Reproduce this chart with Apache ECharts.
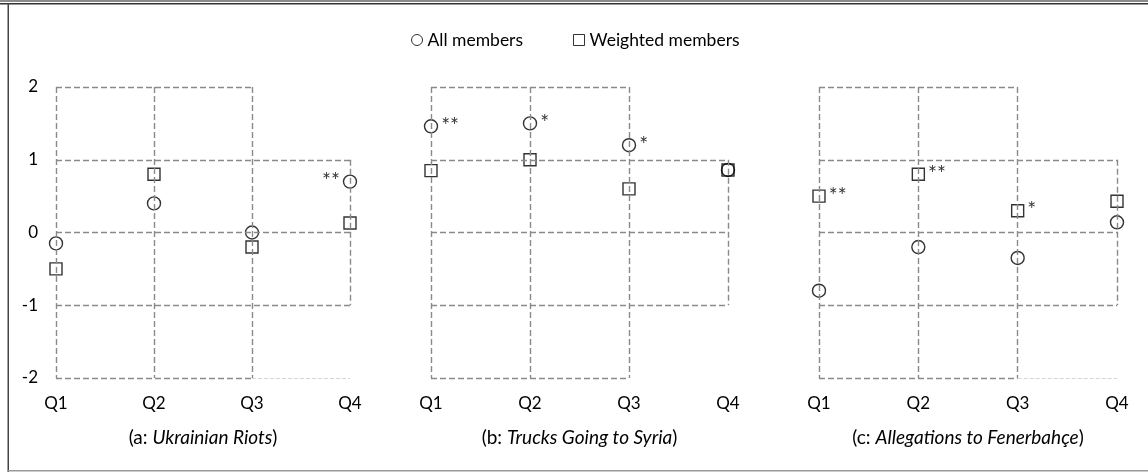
<!DOCTYPE html>
<html>
<head>
<meta charset="utf-8">
<style>
  html, body { margin: 0; padding: 0; background: #fff; }
  #chart { width: 1148px; height: 472px; }
</style>
<script src="https://cdn.jsdelivr.net/npm/echarts@6/dist/echarts.min.js"></script>
</head>
<body>
<div id="chart"></div>
<script>
// Quarter categories and y-axis ticks
const quarters = ['Q1', 'Q2', 'Q3', 'Q4'];
const yMin = -2, yMax = 2, yStep = 1;

// (a) Ukrainian Riots
const allA = [-0.15, 0.4, 0.0, 0.7];
const weightedA = [-0.5, 0.8, -0.2, 0.13];
const sigAllA = ['', '', '', '**'];
const sigWeightedA = ['', '', '', ''];

// (b) Trucks Going to Syria
const allB = [1.46, 1.5, 1.2, 0.86];
const weightedB = [0.85, 1.0, 0.6, 0.86];
const sigAllB = ['**', '*', '*', ''];
const sigWeightedB = ['', '', '', ''];

// (c) Allegations to Fenerbahçe
const allC = [-0.8, -0.2, -0.35, 0.14];
const weightedC = [0.5, 0.8, 0.3, 0.43];
const sigAllC = ['', '', '', ''];
const sigWeightedC = ['**', '**', '*', ''];

const panelTitles = [
  ['(a: ', 'Ukrainian Riots', ')'],
  ['(b: ', 'Trucks Going to Syria', ')'],
  ['(c: ', 'Allegations to Fenerbahçe', ')']
];

const FONT = 'Lato, "Open Sans", sans-serif';

// Dashed reference frame drawn in data coordinates: [x1, y1, x2, y2]
const frameSegments = [
  ['Q1', 2, 'Q3', 2], ['Q1', 1, 'Q4', 1], ['Q1', 0, 'Q4', 0], ['Q1', -1, 'Q4', -1], ['Q1', -2, 'Q3', -2],
  ['Q1', 2, 'Q1', -2], ['Q2', 2, 'Q2', -2], ['Q3', 2, 'Q3', -2], ['Q4', 1, 'Q4', -1]
];
const faintSegments = [['Q3', -2, 'Q4', -2]];

const grids = [
  { left: 56, width: 294, top: 87, height: 291 },
  { left: 431, width: 297, top: 87, height: 291 },
  { left: 819, width: 298, top: 87, height: 291 }
];

const panels = [
  { all: allA, w: weightedA, sigAll: sigAllA, sigW: sigWeightedA, allSide: 'left', faint: true },
  { all: allB, w: weightedB, sigAll: sigAllB, sigW: sigWeightedB, allSide: 'right', faint: false },
  { all: allC, w: weightedC, sigAll: sigAllC, sigW: sigWeightedC, allSide: 'right', faint: true }
];

const xAxes = [], yAxes = [], series = [];

panels.forEach((p, i) => {
  xAxes.push({
    gridIndex: i,
    type: 'category',
    data: quarters,
    boundaryGap: false,
    axisLine: { show: false },
    axisTick: { show: false },
    splitLine: { show: false },
    axisLabel: { color: '#000', fontFamily: FONT, fontSize: 17, margin: 17 },
    name: '{n|' + panelTitles[i][0] + '}{it|' + panelTitles[i][1] + '}{n|' + panelTitles[i][2] + '}',
    nameLocation: 'middle',
    nameGap: 50,
    nameTextStyle: {
      rich: {
        n: { fontFamily: FONT, fontSize: 19, color: '#000' },
        it: { fontFamily: FONT, fontSize: 19, color: '#000', fontStyle: 'italic' }
      }
    }
  });
  yAxes.push({
    gridIndex: i,
    type: 'value',
    min: yMin, max: yMax, interval: yStep,
    axisLine: { show: false },
    axisTick: { show: false },
    splitLine: { show: false },
    axisLabel: { show: i === 0, color: '#000', fontFamily: FONT, fontSize: 17, margin: 18 }
  });

  const segData = frameSegments.map(s => [{ coord: [s[0], s[1]] }, { coord: [s[2], s[3]] }]);
  const faintData = p.faint ? faintSegments.map(s => [
    { coord: [s[0], s[1]], lineStyle: { color: '#d6d6d6', width: 1, type: [4, 2] } },
    { coord: [s[2], s[3]] }
  ]) : [];

  // Frame carrier series (no points of its own)
  series.push({
    type: 'line',
    xAxisIndex: i, yAxisIndex: i,
    data: [],
    silent: true,
    markLine: {
      silent: true,
      symbol: ['none', 'none'],
      label: { show: false },
      lineStyle: { color: '#8a8a8a', width: 1.4, type: [6, 3] },
      data: segData.concat(faintData)
    },
    z: 1
  });

  const sigLabel = (marks, side) => ({
    show: true,
    position: side,
    distance: 3,
    color: '#000',
    fontFamily: FONT,
    fontSize: 21,
    lineHeight: 21,
    padding: [8, 0, 0, 0],
    formatter: prm => marks[prm.dataIndex]
  });

  series.push({
    name: 'Weighted members',
    type: 'scatter',
    xAxisIndex: i, yAxisIndex: i,
    symbol: 'rect',
    symbolSize: 12,
    itemStyle: { color: 'rgba(255,255,255,0)', borderColor: '#000', borderWidth: 1.4 },
    label: sigLabel(p.sigW, 'right'),
    data: p.w,
    z: 3
  });
  series.push({
    name: 'All members',
    type: 'scatter',
    xAxisIndex: i, yAxisIndex: i,
    symbol: 'circle',
    symbolSize: 13,
    itemStyle: { color: 'rgba(255,255,255,0)', borderColor: '#000', borderWidth: 1.4 },
    label: sigLabel(p.sigAll, p.allSide),
    data: p.all,
    z: 4
  });
});

const chart = echarts.init(document.getElementById('chart'), null, { renderer: 'canvas' });
chart.setOption({
  backgroundColor: '#fff',
  animation: false,
  grid: grids,
  xAxis: xAxes,
  yAxis: yAxes,
  legend: {
    data: [
      { name: 'All members', icon: 'circle', itemStyle: { color: '#fff', borderColor: '#000', borderWidth: 1 } },
      { name: 'Weighted members', icon: 'rect', itemStyle: { color: '#fff', borderColor: '#000', borderWidth: 1 } }
    ],
    left: 406,
    top: 26,
    itemWidth: 11,
    itemHeight: 11,
    itemGap: 50,
    textStyle: { color: '#000', fontFamily: FONT, fontSize: 17.5, padding: [0, 0, 0, 0] }
  },
  graphic: [
    { type: 'rect', shape: { x: 0, y: 0, width: 1148, height: 2 }, style: { fill: '#8c8c8c' }, silent: true },
    { type: 'rect', shape: { x: 0, y: 3, width: 1148, height: 1.5 }, style: { fill: '#333' }, silent: true },
    { type: 'rect', shape: { x: 7.5, y: 3, width: 1.5, height: 469 }, style: { fill: '#444' }, silent: true },
    { type: 'rect', shape: { x: 8, y: 470, width: 1140, height: 1.5 }, style: { fill: '#999' }, silent: true }
  ],
  series: series
});
</script>
</body>
</html>
